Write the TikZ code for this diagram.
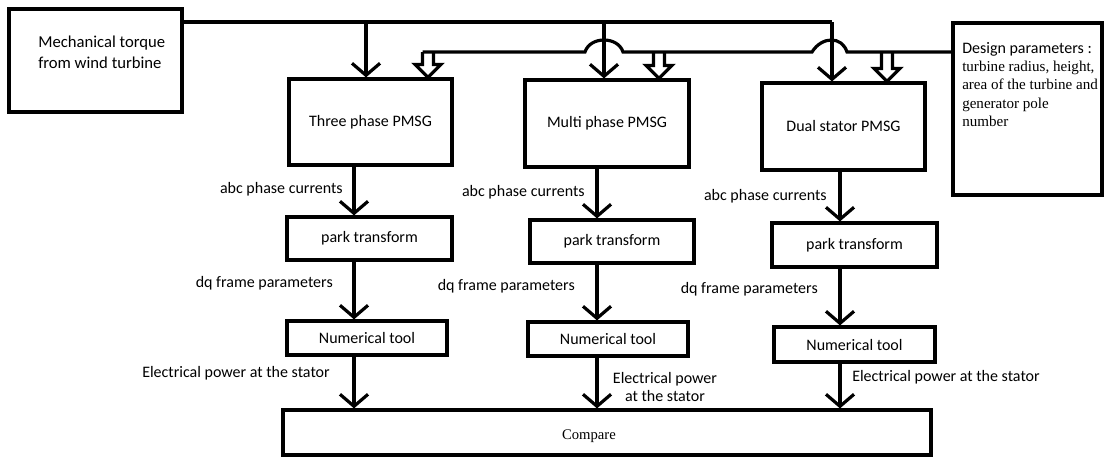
\documentclass[tikz,border=0pt]{standalone}
\usepackage{fontspec}
\setmainfont{Carlito}
\newfontfamily\tnr{Liberation Serif}
\newfontfamily\calfam{Carlito}
\usetikzlibrary{arrows.meta,calc}
\newlength\pxu \setlength\pxu{0.75pt}
\begin{document}
\begin{tikzpicture}[x=0.75pt,y=-0.75pt,
  every node/.style={font=\fontsize{12}{14.4}\selectfont},
  box/.style={draw,line width=2.4pt,fill=white,inner sep=0pt},
  lab/.style={inner sep=0pt},
  ln/.style={line width=2.4pt},
  arr/.style={line width=2.4pt,-{Straight Barb[length=9pt,width=21pt]}}
]
\useasboundingbox (0,0) rectangle (1104,457);
\fill[white] (0,0) rectangle (1104,457);

% boxes
\node[box,minimum width=173\pxu,minimum height=103\pxu] (mech) at (95.5,60.5) {};
\node[box,minimum width=163\pxu,minimum height=86\pxu] (three) at (370.5,122) {Three phase PMSG};
\node[box,minimum width=164\pxu,minimum height=87\pxu] (multi) at (607,123.5) {Multi phase PMSG};
\node[box,minimum width=163\pxu,minimum height=87\pxu] (dual) at (843.5,126.5) {Dual stator PMSG};
\node[box,minimum width=149\pxu,minimum height=172\pxu] (design) at (1027.5,109) {};
\node[box,minimum width=165\pxu,minimum height=43\pxu] (park1) at (369.5,238.5) {park transform};
\node[box,minimum width=164\pxu,minimum height=43\pxu] (park2) at (612,241.5) {park transform};
\node[box,minimum width=165\pxu,minimum height=44\pxu] (park3) at (854.5,245) {park transform};
\node[box,minimum width=160\pxu,minimum height=34\pxu] (num1) at (367,338) {Numerical tool};
\node[box,minimum width=160\pxu,minimum height=34\pxu] (num2) at (608,339) {Numerical tool};
\node[box,minimum width=161\pxu,minimum height=35\pxu] (num3) at (854.5,344.5) {Numerical tool};
\node[box,minimum width=648\pxu,minimum height=45\pxu] (cmp) at (607,432.5) {};

% box texts
\node[lab,anchor=west,align=left,font=\fontsize{12.5}{15.75}\selectfont] (mechtxt) at (38,52.5) {Mechanical torque\\from wind turbine};
\node[lab,anchor=west,align=left,font=\tnr\fontsize{11.3}{13.7}\selectfont] (designtxt) at (962,84.5) {{\calfam\fontsize{12}{13.7}\selectfont Design parameters :}\\turbine radius, height,\\area of the turbine and\\generator pole\\number};
\node[lab,font=\tnr\fontsize{11}{13}\selectfont] (cmptxt) at (589,436) {Compare};

% torque line
\coordinate (t0) at (182,22);
\coordinate (t1) at (366,22);
\coordinate (t2) at (604,22);
\coordinate (t3) at (832,22);
\draw[ln] (t0) -- (t3);
\draw[arr] (t1) -- (t1 |- three.north);
\draw[arr] (t2) -- (t2 |- multi.north);
\draw[arr] (t3) -- (t3 |- dual.north);

% design line with jumps
\coordinate (dy) at (0,52);
\coordinate (h1) at (428,52);
\coordinate (h2) at (659,52);
\coordinate (h3) at (887,52);
\draw[ln] (design.west |- dy) -- (847,52) .. controls (842,36) and (822,36) .. (812,52)
  -- (623,52) .. controls (618,36) and (590,36) .. (585,52) -- ($(h1)+(-5.5,0)$);
\foreach \h/\n in {h1/three,h2/multi,h3/dual}{
  \draw[ln,line join=miter] ($(\h)+(-5.5,0)$) -- ($(\h |- \n.north)+(-5.5,-13)$)
    -- ($(\h |- \n.north)+(-13,-13)$) -- (\h |- \n.north)
    -- ($(\h |- \n.north)+(13,-13)$) -- ($(\h |- \n.north)+(5.5,-13)$) -- ($(\h)+(5.5,0)$);
}

% columns
\coordinate (c1) at (354,0);
\coordinate (c2) at (597,0);
\coordinate (c3) at (840,0);
\draw[arr] (c1 |- three.south) -- (c1 |- park1.north);
\draw[arr] (c1 |- park1.south) -- (c1 |- num1.north);
\draw[arr] (c1 |- num1.south) -- (c1 |- cmp.north);
\draw[arr] (c2 |- multi.south) -- (c2 |- park2.north);
\draw[arr] (c2 |- park2.south) -- (c2 |- num2.north);
\draw[arr] (c2 |- num2.south) -- (c2 |- cmp.north);
\draw[arr] (c3 |- dual.south) -- (c3 |- park3.north);
\draw[arr] (c3 |- park3.south) -- (c3 |- num3.north);
\draw[arr] (c3 |- num3.south) -- (c3 |- cmp.north);

% labels
\node[lab,anchor=east] (abc1) at (343,189) {abc phase currents};
\node[lab,anchor=east] (abc2) at (585,192) {abc phase currents};
\node[lab,anchor=east] (abc3) at (827,196) {abc phase currents};
\node[lab,anchor=east] (dq1) at (333,283) {dq frame parameters};
\node[lab,anchor=east] (dq2) at (575,286) {dq frame parameters};
\node[lab,anchor=east] (dq3) at (818,289) {dq frame parameters};
\node[lab,anchor=west] (ep1) at (142,373) {Electrical power at the stator};
\node[lab,align=center,font=\fontsize{12}{13.5}\selectfont] (ep2) at (665,387) {Electrical power\\at the stator};
\node[lab,anchor=west] (ep3) at (852,377) {Electrical power at the stator};
\end{tikzpicture}
\end{document}
